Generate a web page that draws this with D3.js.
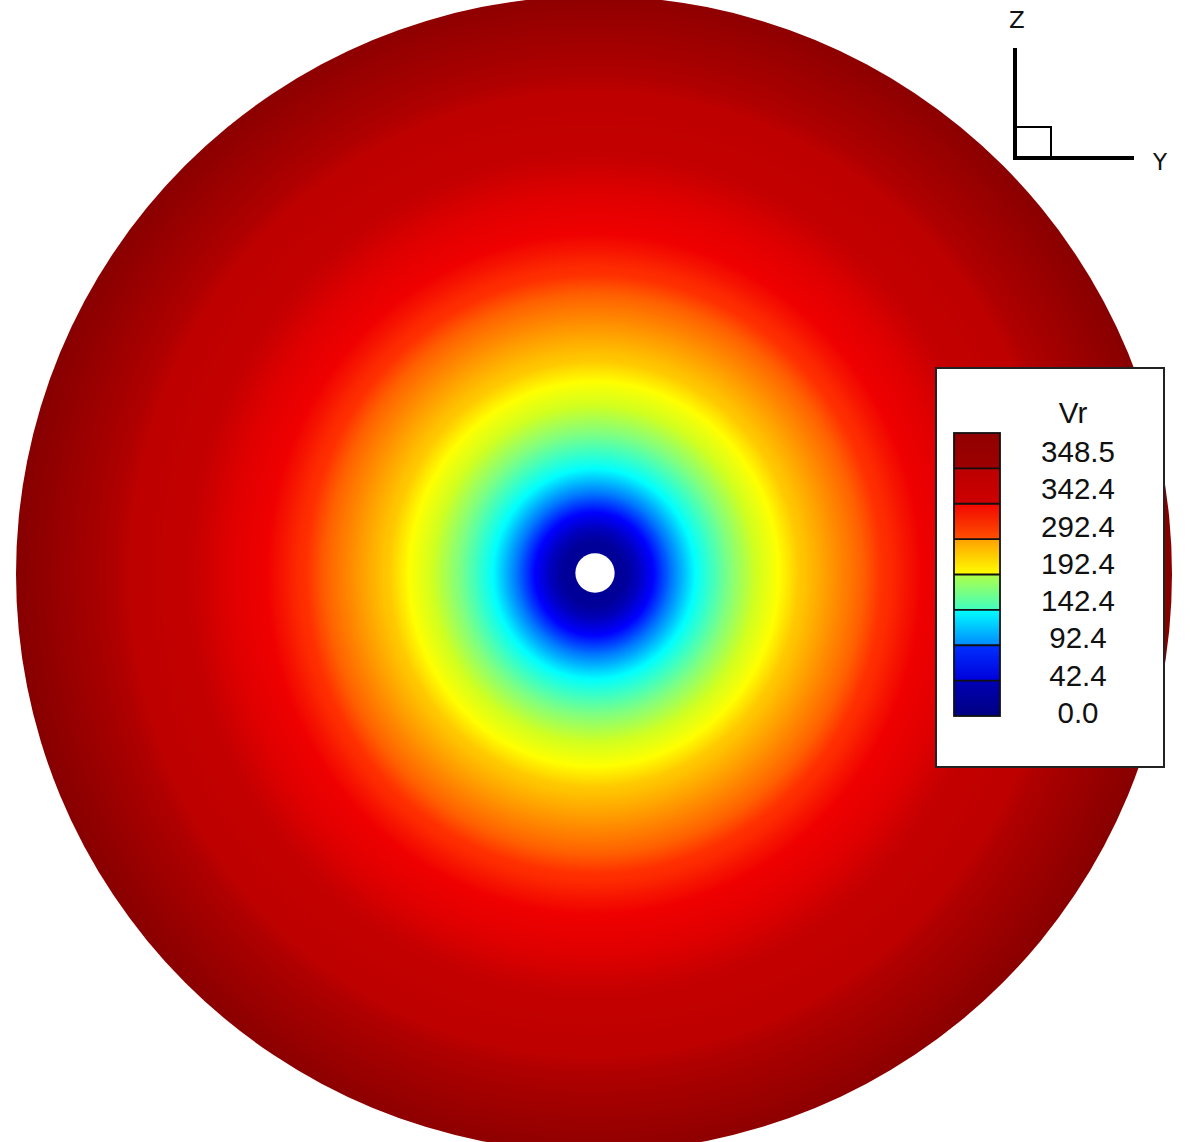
<!DOCTYPE html>
<html><head><meta charset="utf-8">
<script src="https://cdn.jsdelivr.net/npm/d3@7"></script>
<style>html,body{margin:0;padding:0;background:#fff;overflow:hidden;} svg{display:block;}</style>
</head><body>
<script>
// ---- data ----
// radial profile of Vr, radius given as a fraction of the outer radius
const radiusFrac = [0.033, 0.055, 0.102, 0.128, 0.175, 0.234, 0.280, 0.320, 0.367, 0.400, 0.465, 0.498, 0.566, 0.631, 0.697, 0.829, 1.0];
const vrValues   = [11.9, 14.8, 58.9, 79.9, 121.9, 149.9, 167.4, 177.9, 198.4, 226.4, 268.4, 289.4, 304.9, 315.4, 336.4, 343.8, 348.5];
const holeFrac = 0.034;
// legend levels
const levelValues = [0, 42.4, 92.4, 142.4, 192.4, 292.4, 342.4, 348.5];
const levelLabels = ["348.5", "342.4", "292.4", "192.4", "142.4", "92.4", "42.4", "0.0"];
const legendTitle = "Vr";
// colour map (normalised position, low = 0)
const cmapPos    = [0.00, 0.12, 0.19, 0.26, 0.37, 0.45, 0.50, 0.53, 0.58, 0.62, 0.68, 0.71, 0.75, 0.78, 0.84, 0.92, 1.00];
const cmapColors = ["#000080", "#0000c0", "#0000ff", "#0070ff", "#00ffff", "#80ff80", "#d0ff20", "#ffff00", "#ffc000", "#ffa000", "#ff6000", "#ff3000", "#f00000", "#e00000", "#c40000", "#a40000", "#860000"];
// colour-map range shown in each legend band (bottom band first)
const bandRanges = [[0.00, 0.10], [0.15, 0.22], [0.28, 0.37], [0.41, 0.48], [0.53, 0.62], [0.69, 0.745], [0.82, 0.86], [0.94, 0.97]];
const axisLabels = ["Z", "Y"];

// ---- layout ----
const W = 1200, H = 1142;
const cx = 594, cy = 574, R = 578;

const svg = d3.select("body").append("svg").attr("width", W).attr("height", H);
const defs = svg.append("defs");

const valueToPos = d3.scaleLinear().domain(levelValues).range(levelValues.map((d, i) => i / (levelValues.length - 1))).clamp(true);
const cmap = d3.scaleLinear().domain(cmapPos).range(cmapColors).interpolate(d3.interpolateRgb).clamp(true);
const profile = d3.scaleLinear().domain(radiusFrac).range(vrValues).clamp(true);
const rScale = d3.scaleLinear().domain([0, 1]).range([0, R]);

// radial field gradient
const rg = defs.append("radialGradient").attr("id", "field")
  .attr("gradientUnits", "userSpaceOnUse").attr("cx", cx).attr("cy", cy).attr("r", rScale(1))
  .attr("gradientTransform", `translate(${cx},${cy}) scale(1,1.04) translate(${-cx},${-cy})`);
d3.range(0, 401).forEach(k => {
  const f = k / 400;
  rg.append("stop").attr("offset", f).attr("stop-color", cmap(valueToPos(profile(f))));
});

svg.append("circle").attr("cx", cx).attr("cy", cy).attr("r", rScale(1)).attr("fill", "url(#field)");
svg.append("circle").attr("cx", cx + 1).attr("cy", cy - 1).attr("r", rScale(holeFrac)).attr("fill", "#fff");

// ---- triad ----
const tri = svg.append("g");
tri.append("line").attr("x1", 1015).attr("y1", 48).attr("x2", 1015).attr("y2", 160).attr("stroke", "#000").attr("stroke-width", 4);
tri.append("line").attr("x1", 1013).attr("y1", 158).attr("x2", 1134).attr("y2", 158).attr("stroke", "#000").attr("stroke-width", 4);
tri.append("rect").attr("x", 1016).attr("y", 127).attr("width", 35).attr("height", 31).attr("fill", "none").attr("stroke", "#000").attr("stroke-width", 2);
tri.append("text").attr("x", 1017).attr("y", 28).attr("text-anchor", "middle").attr("font-family", "DejaVu Sans").attr("font-size", 23).attr("fill", "#111").text(axisLabels[0]);
tri.append("text").attr("x", 1160).attr("y", 170).attr("text-anchor", "middle").attr("font-family", "DejaVu Sans").attr("font-size", 23).attr("fill", "#111").text(axisLabels[1]);

// ---- legend ----
const lg = svg.append("g");
lg.append("rect").attr("x", 936).attr("y", 368).attr("width", 228).attr("height", 399)
  .attr("fill", "#fff").attr("stroke", "#222").attr("stroke-width", 2);

const barX = 954, barY = 433, barW = 46, barH = 283;
const nb = bandRanges.length;
const lgrad = defs.append("linearGradient").attr("id", "bar").attr("x1", 0).attr("y1", 1).attr("x2", 0).attr("y2", 0);
bandRanges.forEach((rng, i) => {
  lgrad.append("stop").attr("offset", i / nb).attr("stop-color", cmap(rng[0]));
  lgrad.append("stop").attr("offset", (i + 1) / nb).attr("stop-color", cmap(rng[1]));
});
lg.append("rect").attr("x", barX).attr("y", barY).attr("width", barW).attr("height", barH).attr("fill", "url(#bar)");
const bandY = d3.scaleLinear().domain([0, nb]).range([barY, barY + barH]);
d3.range(1, nb).forEach(i => {
  lg.append("line").attr("x1", barX).attr("x2", barX + barW).attr("y1", bandY(i)).attr("y2", bandY(i))
    .attr("stroke", "#111").attr("stroke-width", 1.8);
});
lg.append("rect").attr("x", barX).attr("y", barY).attr("width", barW).attr("height", barH)
  .attr("fill", "none").attr("stroke", "#111").attr("stroke-width", 1.8);

lg.append("text").attr("x", 1073).attr("y", 423).attr("text-anchor", "middle")
  .attr("font-family", "Liberation Sans, Arial, sans-serif").attr("font-size", 29.5).attr("fill", "#111").text(legendTitle);
const labY = d3.scaleLinear().domain([0, levelLabels.length - 1]).range([462, 723]);
levelLabels.forEach((t, i) => {
  lg.append("text").attr("x", 1078).attr("y", labY(i)).attr("text-anchor", "middle")
    .attr("font-family", "Liberation Sans, Arial, sans-serif").attr("font-size", 29.5).attr("fill", "#111").text(t);
});
</script>
</body></html>
